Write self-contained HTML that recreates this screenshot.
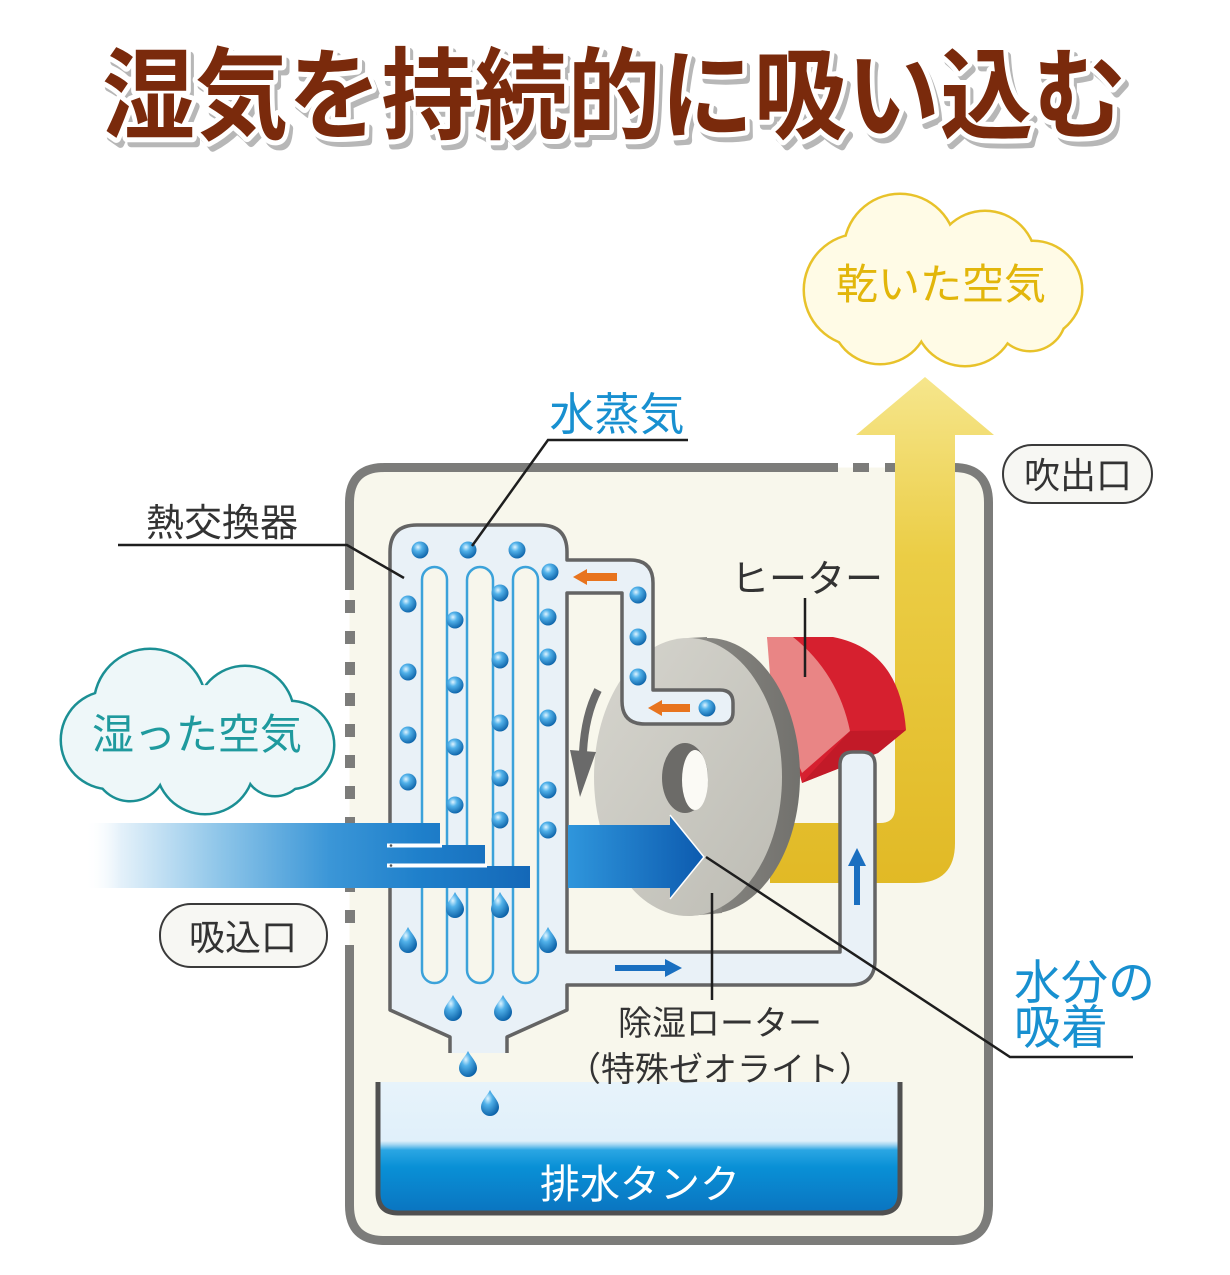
<!DOCTYPE html>
<html><head><meta charset="utf-8"><style>
html,body{margin:0;padding:0;background:#fff;}
svg{display:block;}
text{font-family:"Liberation Sans","Noto Sans CJK JP",sans-serif;}
</style></head><body>
<svg width="1230" height="1275" viewBox="0 0 1230 1275" xmlns="http://www.w3.org/2000/svg">
<defs>
<radialGradient id="dg" cx="0.38" cy="0.33" r="0.7">
<stop offset="0" stop-color="#dff4ff"/><stop offset="0.35" stop-color="#52b2ea"/><stop offset="1" stop-color="#0c62a8"/>
</radialGradient>
<linearGradient id="yg" gradientUnits="userSpaceOnUse" x1="0" y1="377" x2="0" y2="890">
<stop offset="0" stop-color="#f6e68c"/><stop offset="0.35" stop-color="#ebcd45"/><stop offset="1" stop-color="#e1b925"/>
</linearGradient>
<linearGradient id="ig" gradientUnits="userSpaceOnUse" x1="85" y1="0" x2="530" y2="0">
<stop offset="0" stop-color="#ffffff" stop-opacity="0"/><stop offset="0.08" stop-color="#e4f1fa"/><stop offset="0.3" stop-color="#8fc6e9"/><stop offset="0.55" stop-color="#3b96d7"/><stop offset="0.75" stop-color="#1f80cb"/><stop offset="1" stop-color="#1468b8"/>
</linearGradient>
<linearGradient id="rg" gradientUnits="userSpaceOnUse" x1="568" y1="0" x2="710" y2="0">
<stop offset="0" stop-color="#2f96dc"/><stop offset="1" stop-color="#0b58ad"/>
</linearGradient>
<linearGradient id="fg" x1="0" y1="0" x2="1" y2="1">
<stop offset="0" stop-color="#d6d5ce"/><stop offset="1" stop-color="#bdbcb4"/>
</linearGradient>
<linearGradient id="rimg" x1="0" y1="0" x2="1" y2="0">
<stop offset="0" stop-color="#9a9994"/><stop offset="1" stop-color="#72716d"/>
</linearGradient>
<linearGradient id="tg" gradientUnits="userSpaceOnUse" x1="0" y1="1082" x2="0" y2="1213">
<stop offset="0" stop-color="#e7f3fb"/><stop offset="0.45" stop-color="#e0f0fa"/><stop offset="0.48" stop-color="#9fd4f1"/><stop offset="0.52" stop-color="#2aa6e3"/><stop offset="0.65" stop-color="#0990d6"/><stop offset="1" stop-color="#0a74c0"/>
</linearGradient>
<path id="drop" d="M0,-13 C3,-7 9,-2 9,4 A9,9 0 0 1 -9,4 C-9,-2 -3,-7 0,-13 Z" fill="url(#dg)"/>
</defs>

<!-- Title -->
<g font-weight="700" font-size="100">
<text x="106" y="137" textLength="1024" lengthAdjust="spacingAndGlyphs" fill="#a0a0a0" stroke="#a0a0a0" stroke-width="8" stroke-linejoin="round" opacity="0.75">湿気を持続的に吸い込む</text>
<text x="102" y="131" textLength="1024" lengthAdjust="spacingAndGlyphs" fill="#7a2a0c" stroke="#ffffff" stroke-width="10" stroke-linejoin="round" paint-order="stroke">湿気を持続的に吸い込む</text>
</g>

<!-- Main box -->
<rect x="349.5" y="467.5" width="639" height="773" rx="35" fill="#f8f7ec"/>
<path d="M838,467.5 L384.5,467.5 Q349.5,467.5 349.5,502.5 L349.5,590" fill="none" stroke="#7c7c7a" stroke-width="9"/>
<path d="M349.5,945 L349.5,1205.5 Q349.5,1240.5 384.5,1240.5 L953.5,1240.5 Q988.5,1240.5 988.5,1205.5 L988.5,502.5 Q988.5,467.5 953.5,467.5 L950,467.5" fill="none" stroke="#7c7c7a" stroke-width="9"/>
<g fill="#7c7c7a">
<rect x="345" y="600" width="10" height="13"/><rect x="345" y="631" width="10" height="13"/><rect x="345" y="662" width="10" height="13"/><rect x="345" y="693" width="10" height="13"/><rect x="345" y="724" width="10" height="13"/><rect x="345" y="755" width="10" height="13"/><rect x="345" y="786" width="10" height="13"/><rect x="345" y="817" width="10" height="13"/><rect x="345" y="879" width="10" height="13"/><rect x="345" y="910" width="10" height="13"/>
<rect x="853" y="463" width="16" height="9"/><rect x="885" y="463" width="10" height="9"/>
</g>

<!-- Yellow L arrow -->
<path d="M895,435 L856,435 L925,377 L994,435 L955,435 L955,843 Q955,883 915,883 L770,883 L770,823 L880,823 Q895,823 895,808 Z" fill="url(#yg)"/>

<!-- Heater -->
<path d="M767,637 L833,637 Q900,650 906,730 L878,753 L802,783 L780,700 Z" fill="#d6202f"/>
<path d="M850,731 L906,730 L878,753 L802,783 Z" fill="#c21a28"/>
<path d="M767,637 L793,637 Q838,673 850,731 L802,773 L772,700 Z" fill="#e98585"/>

<!-- Rotor -->
<ellipse cx="708" cy="776" rx="92" ry="138" fill="url(#rimg)"/>
<path d="M688,638 L707,637 L722,913 L688,916 Z" fill="#8a8984"/>
<ellipse cx="688" cy="777" rx="94" ry="139" fill="url(#fg)"/>
<ellipse cx="685" cy="778" rx="23" ry="35" fill="#6c6b68"/>
<ellipse cx="695" cy="780" rx="13" ry="30" fill="#fbfaf5"/>

<!-- Heat exchanger + pipes -->
<path d="M507,1053 L507,1037 L567,1010 L567,985 L850,985 Q875,985 875,960 L875,765 Q875,752 862,752 L853,752 Q840,752 840,765 L840,952 L567,952 L567,593 L622,593 L622,701 Q622,724 645,724 L720,724 Q733,724 733,712 L733,703 Q733,690 720,690 L653,690 L653,583 Q653,560 630,560 L567,560 L567,552 Q567,525 540,525 L417,525 Q390,525 390,552 L390,1010 L450,1037 L450,1053 Z" fill="#e9f1f7"/>
<path d="M507,1053 L507,1037 L567,1010 L567,985 L850,985 Q875,985 875,960 L875,765 Q875,752 862,752 L853,752 Q840,752 840,765 L840,952 L567,952 L567,593 L622,593 L622,701 Q622,724 645,724 L720,724 Q733,724 733,712 L733,703 Q733,690 720,690 L653,690 L653,583 Q653,560 630,560 L567,560 L567,552 Q567,525 540,525 L417,525 Q390,525 390,552 L390,1010 L450,1037 L450,1053" fill="none" stroke="#646464" stroke-width="3.5" stroke-linejoin="round"/>

<!-- Tubes -->
<g fill="#f7f6ec" stroke="#3ba2da" stroke-width="2.5">
<rect x="422" y="567" width="25" height="416" rx="12.5"/>
<rect x="467" y="567" width="26" height="416" rx="13"/>
<rect x="513" y="567" width="25" height="416" rx="12.5"/>
</g>

<!-- Dots -->
<g fill="url(#dg)">
<circle cx="420" cy="550" r="8.5"/><circle cx="468" cy="550" r="8.5"/><circle cx="517" cy="550" r="8.5"/>
<circle cx="550" cy="572" r="8.5"/>
<circle cx="408" cy="604" r="8.5"/><circle cx="500" cy="593" r="8.5"/><circle cx="455" cy="620" r="8.5"/><circle cx="548" cy="617" r="8.5"/>
<circle cx="500" cy="660" r="8.5"/><circle cx="548" cy="657" r="8.5"/>
<circle cx="408" cy="672" r="8.5"/><circle cx="455" cy="685" r="8.5"/>
<circle cx="500" cy="723" r="8.5"/><circle cx="548" cy="718" r="8.5"/>
<circle cx="408" cy="735" r="8.5"/><circle cx="455" cy="747" r="8.5"/>
<circle cx="500" cy="778" r="8.5"/><circle cx="408" cy="782" r="8.5"/><circle cx="548" cy="790" r="8.5"/>
<circle cx="455" cy="805" r="8.5"/><circle cx="500" cy="820" r="8.5"/><circle cx="548" cy="830" r="8.5"/>
<circle cx="638" cy="595" r="8.5"/><circle cx="638" cy="637" r="8.5"/><circle cx="638" cy="677" r="8.5"/><circle cx="707" cy="708" r="8.5"/>
</g>

<!-- Intake arrow -->
<rect x="85" y="823" width="355" height="22" fill="url(#ig)"/>
<rect x="85" y="845" width="400" height="21" fill="url(#ig)"/>
<rect x="85" y="866" width="445" height="22" fill="url(#ig)"/>
<rect x="387" y="843.5" width="55" height="4" fill="#ffffff"/>
<rect x="387" y="863.5" width="100" height="4" fill="#ffffff"/>
<g fill="#555"><circle cx="391" cy="845.5" r="1.3"/><circle cx="391" cy="865.5" r="1.3"/></g>

<!-- Right arrow into rotor -->
<path d="M568,825 L670,825 L670,815 L704,857 L670,899 L670,888 L568,888 Z" fill="url(#rg)"/>
<path d="M670,815 L704,857 L670,899" fill="none" stroke="#ffffff" stroke-width="1.5"/>

<!-- Rotation arrow -->
<path d="M598,690 Q585,715 583,752" fill="none" stroke="#6a6a6a" stroke-width="8"/>
<path d="M570,750 L596,752 L580,797 Z" fill="#6a6a6a"/>

<!-- Orange arrows -->
<g fill="#e8741e">
<path d="M573,577 L587,569 L587,573 L617,573 L617,581 L587,581 L587,585 Z"/>
<path d="M648,708 L662,700 L662,704 L690,704 L690,712 L662,712 L662,716 Z"/>
</g>
<!-- Blue small arrows -->
<g fill="#1a6fc0">
<path d="M615,965 L665,965 L665,959 L682,968 L665,977 L665,971 L615,971 Z"/>
<path d="M854,905 L854,866 L848,866 L857,848 L866,866 L860,866 L860,905 Z"/>
</g>

<!-- Tank -->
<path d="M378,1082 L378,1193 Q378,1213 398,1213 L880,1213 Q900,1213 900,1193 L900,1082" fill="url(#tg)" stroke="#505050" stroke-width="5"/>
<text x="640" y="1198" font-size="40" fill="#ffffff" text-anchor="middle">排水タンク</text>

<!-- Drops -->
<use href="#drop" x="455" y="905"/><use href="#drop" x="500" y="905"/>
<use href="#drop" x="408" y="940"/><use href="#drop" x="548" y="940"/>
<use href="#drop" x="453" y="1008"/><use href="#drop" x="503" y="1008"/>
<use href="#drop" x="468" y="1064"/><use href="#drop" x="490" y="1103"/>

<!-- Dry air cloud -->
<g fill="#e8c22a">
<circle cx="900" cy="250" r="57.5"/><circle cx="985" cy="262" r="52.5"/><circle cx="860" cy="290" r="57.5"/><circle cx="1033" cy="290" r="50.5"/><circle cx="880" cy="315" r="50.5"/><circle cx="965" cy="315" r="52.5"/><circle cx="1030" cy="315" r="37.5"/>
</g>
<g fill="#fffbe6">
<circle cx="900" cy="250" r="55"/><circle cx="985" cy="262" r="50"/><circle cx="860" cy="290" r="55"/><circle cx="1033" cy="290" r="48"/><circle cx="880" cy="315" r="48"/><circle cx="965" cy="315" r="50"/><circle cx="1030" cy="315" r="35"/>
<ellipse cx="945" cy="285" rx="110" ry="55"/>
</g>
<text x="941" y="299" font-size="42" fill="#e2b60a" text-anchor="middle">乾いた空気</text>

<!-- Humid air cloud -->
<g fill="#1b8f94">
<circle cx="150" cy="705" r="57.5"/><circle cx="245" cy="715" r="50.5"/><circle cx="110" cy="740" r="50.5"/><circle cx="290" cy="745" r="45.5"/><circle cx="130" cy="765" r="37.5"/><circle cx="205" cy="765" r="50.5"/><circle cx="275" cy="765" r="32.5"/>
</g>
<g fill="#eef7f9">
<circle cx="150" cy="705" r="55"/><circle cx="245" cy="715" r="48"/><circle cx="110" cy="740" r="48"/><circle cx="290" cy="745" r="43"/><circle cx="130" cy="765" r="35"/><circle cx="205" cy="765" r="48"/><circle cx="275" cy="765" r="30"/>
<ellipse cx="200" cy="735" rx="110" ry="50"/>
</g>
<text x="197" y="749" font-size="42" fill="#1f9a9e" text-anchor="middle">湿った空気</text>

<!-- Pills -->
<rect x="1003" y="445" width="149" height="58" rx="29" fill="#f7f7f3" stroke="#3a3a3a" stroke-width="2"/>
<text x="1078" y="488" font-size="36" fill="#333" text-anchor="middle">吹出口</text>
<rect x="160" y="904" width="167" height="63" rx="31" fill="#f7f7f3" stroke="#3a3a3a" stroke-width="2"/>
<text x="243" y="950" font-size="36" fill="#333" text-anchor="middle">吸込口</text>

<!-- Labels -->
<text x="222" y="536" font-size="38" fill="#333" text-anchor="middle">熱交換器</text>
<text x="617" y="430" font-size="45" fill="#1890d0" text-anchor="middle">水蒸気</text>
<text x="807" y="592" font-size="38" fill="#333" text-anchor="middle">ヒーター</text>
<text x="720" y="1035" font-size="34" fill="#333" text-anchor="middle">除湿ローター</text>
<text x="720" y="1081" font-size="34" fill="#333" text-anchor="middle">（特殊ゼオライト）</text>
<text x="1014" y="999" font-size="47" fill="#1890d0">水分の</text>
<text x="1014" y="1044" font-size="47" fill="#1890d0">吸着</text>

<!-- Leaders -->
<g fill="none" stroke="#1e1e1e" stroke-width="2.5">
<path d="M118,545 L347,545 L404,578"/>
<path d="M688,440 L548,440 L472,546"/>
<path d="M805,598 L805,677"/>
<path d="M712,893 L712,1000"/>
<path d="M706,857 L1010,1057 L1133,1057"/>
</g>
</svg>
</body></html>
